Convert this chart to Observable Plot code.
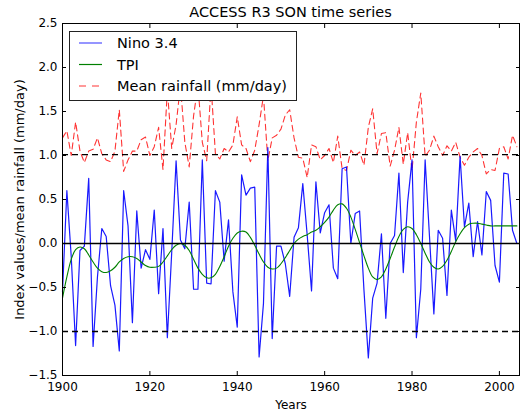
<!DOCTYPE html>
<html><head><meta charset="utf-8">
<script src="https://cdn.jsdelivr.net/npm/d3@7"></script>
<script src="https://cdn.jsdelivr.net/npm/@observablehq/plot@0.6"></script>
<style>
body{margin:0;background:#fff;font-family:"DejaVu Sans",sans-serif;}
#wrap{position:relative;width:520px;height:412px;overflow:hidden;}
#title{height:22px;padding-left:62px;width:457px;text-align:center;font-size:14.5px;line-height:24px;color:#000;}
#legend{position:absolute;left:0;top:0;}
</style></head><body>
<div id="wrap">
<div id="title">ACCESS R3 SON time series</div>
<div id="chart"></div>
</div>
<script>
const firstYear = 1900;
const nino = [-0.55,0.6,-0.15,-1.16,-0.08,-0.03,0.74,-1.17,-0.38,0.17,
0.08,-0.48,-0.7,-1.22,0.6,0.2,-0.9,0.37,-0.28,-0.07,
-0.18,0.38,-0.57,0.17,-1.07,-0.1,0.94,0.04,-0.06,0.47,
-0.52,-0.52,0.95,-0.45,-0.46,0.6,0.47,-0.2,0.27,-0.55,
-0.95,0.78,0.55,0.63,0.64,-1.29,-0.68,1.09,-1.08,-0.03,
-0.03,-0.23,-0.6,0.07,0.18,0.68,0.1,-0.54,0.7,0.12,
0.35,0.44,-0.28,-0.4,0.85,0.87,0.0,0.34,0.37,-0.53,
-1.3,-0.62,-0.45,0.11,-0.85,0.0,0.09,0.8,-0.33,0.47,
0.95,-1.07,-0.52,0.95,0.08,-0.8,0.15,0.06,-0.59,0.38,
0.03,0.99,0.19,0.46,-0.15,0.25,-0.13,0.59,0.49,-0.25,
-0.44,0.8,0.79,0.15,0.0];
const tpi = [-0.62,-0.38,-0.18,-0.07,-0.04,-0.06,-0.13,-0.21,-0.28,-0.32,
-0.33,-0.31,-0.27,-0.21,-0.17,-0.15,-0.15,-0.17,-0.21,-0.25,
-0.27,-0.27,-0.26,-0.21,-0.14,-0.07,-0.02,0.0,-0.02,-0.08,
-0.18,-0.28,-0.35,-0.39,-0.39,-0.35,-0.26,-0.15,-0.03,0.06,
0.12,0.14,0.13,0.07,-0.02,-0.12,-0.21,-0.27,-0.29,-0.28,
-0.23,-0.16,-0.08,0.0,0.05,0.08,0.1,0.13,0.15,0.19,
0.24,0.3,0.38,0.44,0.45,0.4,0.3,0.16,0.01,-0.14,
-0.28,-0.38,-0.41,-0.38,-0.29,-0.17,-0.04,0.08,0.16,0.19,
0.17,0.1,0.0,-0.11,-0.21,-0.27,-0.29,-0.26,-0.19,-0.09,
0.02,0.11,0.18,0.22,0.23,0.23,0.22,0.21,0.2,0.2,
0.2,0.2,0.2,0.2,0.2];
const rain = [1.2,1.28,1.0,1.38,1.05,0.92,1.05,1.07,1.2,1.02,
0.95,0.93,1.05,1.52,0.82,0.95,1.05,1.05,1.18,1.21,
1.0,1.1,1.32,0.84,1.75,1.08,1.35,1.8,1.15,0.87,
1.45,1.8,1.15,0.94,1.8,1.02,0.96,1.08,1.04,1.12,
1.44,1.12,1.08,0.93,1.06,1.35,1.68,0.94,1.2,1.23,
1.3,1.46,1.52,1.2,0.98,0.97,0.75,1.12,1.1,0.95,
1.0,1.08,0.92,1.22,0.85,0.83,1.06,1.0,1.04,0.89,
1.32,1.53,1.02,1.25,1.26,0.88,1.06,1.32,0.9,1.26,
0.83,1.38,1.71,0.99,1.06,1.22,1.1,1.0,1.11,1.05,
1.15,0.98,0.89,0.98,1.04,1.08,1.0,0.79,0.84,0.83,
1.08,1.1,0.96,1.23,1.1];
const zeroLevel = [0];
const dashedLevels = [1.01, -1.0];
const xTicks = [1900,1920,1940,1960,1980,2000];
const yTicks = [-1.5,-1.0,-0.5,0.0,0.5,1.0,1.5,2.0,2.5];
const seriesNames = ["Nino 3.4","TPI","Mean rainfall (mm/day)"];
const seriesColors = ["#0000ff","#008000","#ff0000"];
const xLabel = "Years";
const yLabel = "Index values/mean rainfall (mm/day)";

const rows = nino.map((v,i)=>({year:firstYear+i, nino:v, tpi:tpi[i], rain:rain[i]}));

const chart = Plot.plot({
  width:520, height:390,
  marginTop:1, marginBottom:37, marginLeft:62, marginRight:1,
  style:{fontFamily:"DejaVu Sans", fontSize:"12px", background:"white", color:"black", overflow:"visible"},
  x:{domain:[1900,2004.6]},
  y:{domain:[-1.5,2.5]},
  marks:[
    Plot.lineY(rows,{x:"year", y:"rain", stroke:seriesColors[2], strokeWidth:1.1, strokeOpacity:0.8, strokeDasharray:"6,4"}),
    Plot.lineY(rows,{x:"year", y:"nino", stroke:seriesColors[0], strokeWidth:1.2, strokeOpacity:0.9}),
    Plot.lineY(rows,{x:"year", y:"tpi", stroke:seriesColors[1], strokeWidth:1.1, curve:"catmull-rom"}),
    Plot.ruleY(zeroLevel,{stroke:"black", strokeWidth:1.4}),
    Plot.ruleY(dashedLevels,{stroke:"black", strokeWidth:1.4, strokeDasharray:"6,4"}),
    Plot.axisX(xTicks,{tickSize:0, tickPadding:7, tickFormat:"d", fontSize:12, label:xLabel, labelAnchor:"center", labelArrow:"none", labelOffset:33}),
    Plot.axisX(xTicks,{tickSize:-4, fill:"none", label:null}),
    Plot.axisX(xTicks,{anchor:"top", tickSize:-4, fill:"none", label:null}),
    Plot.axisY(yTicks,{tickSize:0, tickPadding:5, tickFormat:".1f", fontSize:12, label:yLabel, labelAnchor:"center", labelArrow:"none", labelOffset:48}),
    Plot.axisY(yTicks,{tickSize:-4, fill:"none", label:null}),
    Plot.axisY(yTicks,{anchor:"right", tickSize:-4, fill:"none", label:null}),
    Plot.frame({stroke:"black", strokeWidth:1})
  ]
});
document.getElementById("chart").appendChild(chart);
// y-axis label slightly larger, as in the reference
chart.querySelectorAll("text").forEach(t=>{ if(t.textContent===yLabel) t.setAttribute("font-size","13px"); });

// legend
const ns = "http://www.w3.org/2000/svg";
const lg = document.createElementNS(ns,"svg");
lg.setAttribute("id","legend");
lg.setAttribute("width","232"); lg.setAttribute("height","74");
lg.style.left = "68px"; lg.style.top = "30px";
const rect = document.createElementNS(ns,"rect");
rect.setAttribute("x","1.5"); rect.setAttribute("y","1.5");
rect.setAttribute("width","227"); rect.setAttribute("height","69");
rect.setAttribute("fill","white"); rect.setAttribute("stroke","#222"); rect.setAttribute("stroke-width","1");
lg.appendChild(rect);
const rowY = [13, 34.5, 56];
seriesNames.forEach((name,i)=>{
  const ln = document.createElementNS(ns,"line");
  ln.setAttribute("x1","11"); ln.setAttribute("x2","34");
  ln.setAttribute("y1",rowY[i]); ln.setAttribute("y2",rowY[i]);
  ln.setAttribute("stroke",seriesColors[i]); ln.setAttribute("stroke-width","1.2");
  if(i===2){ln.setAttribute("stroke-dasharray","7,6"); ln.setAttribute("stroke-opacity","0.8");}
  if(i===0){ln.setAttribute("stroke-opacity","0.7");}
  lg.appendChild(ln);
  const t = document.createElementNS(ns,"text");
  t.setAttribute("x","49"); t.setAttribute("y",rowY[i]);
  t.setAttribute("dy","0.35em");
  t.setAttribute("font-family","DejaVu Sans"); t.setAttribute("font-size","14.5px");
  t.setAttribute("fill","black");
  t.textContent = name;
  lg.appendChild(t);
});
document.getElementById("wrap").appendChild(lg);
</script>
</body></html>
